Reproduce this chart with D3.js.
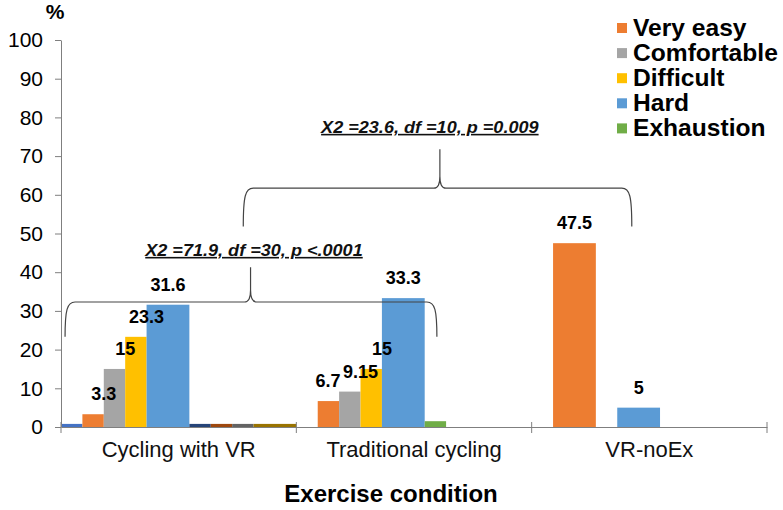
<!DOCTYPE html>
<html>
<head>
	<title>Perceived exertion by exercise condition</title>
	<script src="https://d3js.org/d3.v7.min.js"></script>
	<style>
		body { margin: 0; background: #fff; }
		text { font-family: Arial, "Liberation Sans", Helvetica, sans-serif; }
	</style>
</head>
<body>
<div id="chart"></div>
<script type="text/javascript">

	// categories on the x axis
	var categories = ["Cycling with VR", "Traditional cycling", "VR-noEx"];

	// legend series
	var legendSeries = ["Very easy", "Comfortable", "Difficult", "Hard", "Exhaustion"];

	// each category has 11 bar slots (as in the original spreadsheet);
	// a series that fills two neighbouring slots is drawn as one wide bar
	var vrSlots   = ["Extra1", "Very easy", "Comfortable", "Difficult", "Hard", "Hard", "Extra2", "Extra3", "Extra4", "Extra5", "Extra5"];
	var vrValues  = [0.8, 3.3, 15, 23.3, 31.6, 31.6, 0.8, 0.8, 0.8, 0.8, 0.8];

	var tradSlots  = [null, "Very easy", "Comfortable", "Difficult", "Hard", "Hard", "Exhaustion", null, null, null, null];
	var tradValues = [0, 6.7, 9.15, 15, 33.3, 33.3, 1.5, 0, 0, 0, 0];

	var noExSlots  = [null, "Very easy", "Very easy", null, "Hard", "Hard", null, null, null, null, null];
	var noExValues = [0, 47.5, 47.5, 0, 5, 5, 0, 0, 0, 0, 0];

	var slotsByCat  = [vrSlots, tradSlots, noExSlots];
	var valuesByCat = [vrValues, tradValues, noExValues];

	var yTicks = [0, 10, 20, 30, 40, 50, 60, 70, 80, 90, 100];

	var colors = {
		"Very easy": "#ED7D31",
		"Comfortable": "#A5A5A5",
		"Difficult": "#FFC000",
		"Hard": "#5B9BD5",
		"Exhaustion": "#70AD47",
		"Extra1": "#4472C4",
		"Extra2": "#264478",
		"Extra3": "#9E480E",
		"Extra4": "#636363",
		"Extra5": "#997300"
	};

	// labelled series, and one label that was pushed left to clear its neighbour
	var labelled = ["Very easy", "Comfortable", "Difficult", "Hard"];
	var labelNudge = { "Traditional cycling|Very easy": -11 };

	// chi-square brackets, x in slot units along the axis, y in %
	var brackets = [
		{ left: 0.19, right: 17.57, peak: 8.86, legEnd: 23.3, arm: 32.3, tip: 41.3,
		  text: "X2 =71.9, df =30, p <.0001", textAt: 9.02, textY: 44.2 },
		{ left: 8.52, right: 26.68, peak: 17.71, legEnd: 51.8, arm: 61.7, tip: 71.8,
		  text: "X2 =23.6, df =10, p =0.009", textAt: 17.24, textY: 76 }
	];

	var width = 783, height = 510;
	var svg = d3.select("#chart").append("svg")
		.attr("width", width)
		.attr("height", height);

	var y = d3.scaleLinear().domain([0, 100]).range([427, 40]);
	var x0 = d3.scaleBand().domain(categories).range([61, 767]).padding(0);
	var x1 = d3.scaleBand().domain(d3.range(11)).range([0, x0.bandwidth()]).padding(0);
	var slotScale = d3.scaleLinear().domain([0, 33]).range([61, 767]);

	/* bars: merge runs of the same series into one rect */
	var bars = [];
	categories.forEach(function(cat, ci) {
		var slots = slotsByCat[ci], vals = valuesByCat[ci];
		var i = 0;
		while (i < slots.length) {
			var key = slots[i];
			var j = i;
			while (j + 1 < slots.length && slots[j + 1] === key) j++;
			if (key) bars.push({ cat: cat, key: key, start: i, span: j - i + 1, value: vals[i] });
			i = j + 1;
		}
	});

	svg.append("g").selectAll("rect")
		.data(bars)
		.enter().append("rect")
		.attr("x", function(d) { return x0(d.cat) + x1(d.start); })
		.attr("width", function(d) { return x1.bandwidth() * d.span; })
		.attr("y", function(d) { return y(d.value); })
		.attr("height", function(d) { return y(0) - y(d.value); })
		.attr("fill", function(d) { return colors[d.key]; });

	/* data labels, centred on the right edge of the first slot */
	svg.append("g").selectAll("text")
		.data(bars.filter(function(d) { return labelled.indexOf(d.key) >= 0; }))
		.enter().append("text")
		.attr("x", function(d) {
			var nudge = labelNudge[d.cat + "|" + d.key] || 0;
			return x0(d.cat) + x1(d.start) + x1.bandwidth() + nudge;
		})
		.attr("y", function(d) { return y(d.value) - 14; })
		.attr("text-anchor", "middle")
		.style("font-size", "18px")
		.style("font-weight", "bold")
		.style("fill", "#000")
		.text(function(d) { return String(d.value); });

	/* y axis */
	var yAxis = svg.append("g")
		.attr("transform", "translate(61,0)")
		.call(d3.axisLeft(y).tickValues(yTicks).tickSize(6).tickSizeOuter(0).tickPadding(12));
	yAxis.select(".domain").attr("stroke", "#7f7f7f");
	yAxis.selectAll(".tick line").attr("stroke", "#7f7f7f");
	yAxis.selectAll(".tick text")
		.style("font-size", "21px")
		.style("font-family", "Arial, 'Liberation Sans', sans-serif")
		.attr("fill", "#000");

	/* x axis */
	var xAxis = svg.append("g")
		.attr("transform", "translate(0,427)")
		.call(d3.axisBottom(x0).tickSize(0).tickSizeOuter(0).tickPadding(14));
	xAxis.select(".domain").attr("stroke", "#7f7f7f");
	xAxis.selectAll(".tick text")
		.style("font-size", "22px")
		.style("font-family", "Arial, 'Liberation Sans', sans-serif")
		.attr("fill", "#111");

	var bounds = categories.map(function(c) { return x0(c); }).concat([x0.range()[1]]);
	svg.append("g").selectAll("line")
		.data(bounds)
		.enter().append("line")
		.attr("x1", function(d) { return d; })
		.attr("x2", function(d) { return d; })
		.attr("y1", 422)
		.attr("y2", 433)
		.attr("stroke", "#7f7f7f");

	svg.append("text")
		.attr("x", 391)
		.attr("y", 502)
		.attr("text-anchor", "middle")
		.style("font-size", "24px")
		.style("font-weight", "bold")
		.text("Exercise condition");

	svg.append("text")
		.attr("x", 55)
		.attr("y", 19)
		.attr("text-anchor", "middle")
		.style("font-size", "21px")
		.style("font-weight", "bold")
		.text("%");

	/* brackets */
	function bracketPath(b) {
		var xl = slotScale(b.left), xr = slotScale(b.right), xp = slotScale(b.peak);
		var yb = y(b.legEnd), yh = y(b.arm), yt = y(b.tip);
		return "M" + xl + "," + yb +
			"C" + xl + "," + (yh + 8) + " " + (xl + 2) + "," + yh + " " + (xl + 10) + "," + yh +
			"L" + (xp - 6) + "," + yh +
			"Q" + xp + "," + yh + " " + xp + "," + (yh - 12) +
			"L" + xp + "," + yt +
			"L" + xp + "," + (yh - 12) +
			"Q" + xp + "," + yh + " " + (xp + 6) + "," + yh +
			"L" + (xr - 10) + "," + yh +
			"C" + (xr - 2) + "," + yh + " " + xr + "," + (yh + 8) + " " + xr + "," + yb;
	}

	svg.append("g").selectAll("path")
		.data(brackets)
		.enter().append("path")
		.attr("d", bracketPath)
		.attr("fill", "none")
		.attr("stroke", "#444")
		.attr("stroke-width", 1.2);

	svg.append("g").selectAll("text")
		.data(brackets)
		.enter().append("text")
		.attr("transform", function(b) {
			return "translate(" + slotScale(b.textAt) + "," + y(b.textY) + ") scale(1.13,1)";
		})
		.attr("text-anchor", "middle")
		.style("font-size", "16px")
		.style("font-weight", "bold")
		.style("font-style", "italic")
		.style("text-decoration", "underline")
		.style("fill", "#111")
		.text(function(b) { return b.text; });

	/* legend */
	var legend = svg.append("g").selectAll("g")
		.data(legendSeries)
		.enter().append("g")
		.attr("transform", function(d, i) { return "translate(617," + (28 + i * 25.1) + ")"; });

	legend.append("rect")
		.attr("x", 0)
		.attr("y", -5)
		.attr("width", 10)
		.attr("height", 10)
		.attr("fill", function(d) { return colors[d]; });

	legend.append("text")
		.attr("transform", "translate(16,8) scale(1.07,1)")
		.style("font-size", "23px")
		.style("font-weight", "bold")
		.text(function(d) { return d; });

</script>
</body>
</html>
